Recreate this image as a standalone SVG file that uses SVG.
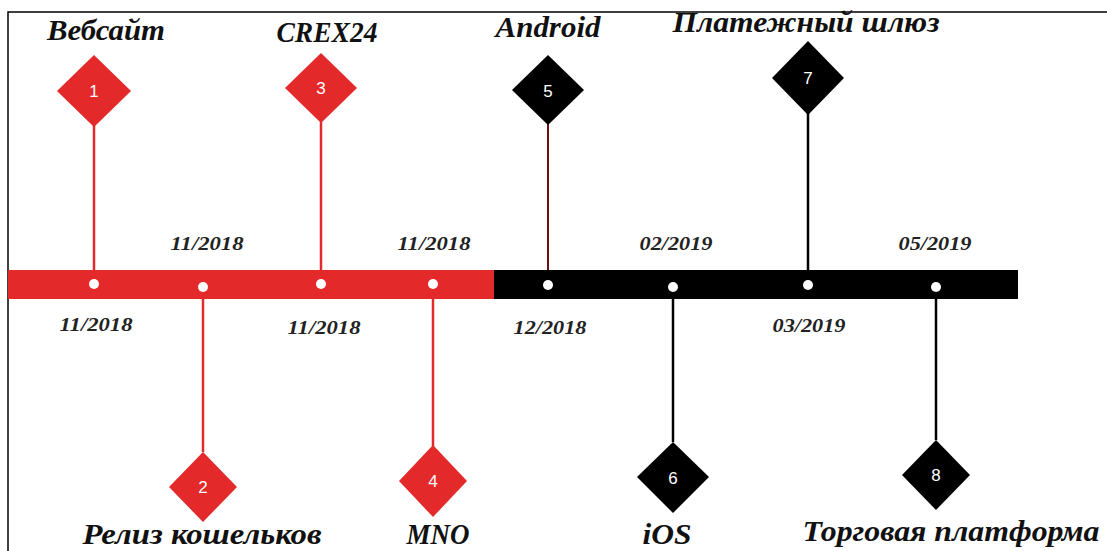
<svg xmlns="http://www.w3.org/2000/svg" width="1107" height="551" viewBox="0 0 1107 551">
<style>
.red{fill:#e3292a}
.blk{fill:#000}
.lr{stroke:#e3292a;stroke-width:2.5}
.lb{stroke:#000;stroke-width:2.5}
.ld{stroke:#6b1010;stroke-width:2}
.num{font-family:"Liberation Sans",Arial,sans-serif;font-size:17px;fill:#fff;text-anchor:middle}
.lbl{font-family:"Liberation Serif","DejaVu Serif",serif;font-weight:bold;font-style:italic;font-size:30px;fill:#111;text-anchor:middle}
.date{font-family:"Liberation Serif","DejaVu Serif",serif;font-weight:bold;font-style:italic;font-size:19px;fill:#222;text-anchor:middle}
.dot{fill:#fff}
</style>
<rect width="1107" height="551" fill="#fff"/>
<path d="M8 551 V12 H1107" fill="none" stroke="#000" stroke-width="1.5"/>
<g id="connectors">
<line class="lr" x1="94" y1="125" x2="94" y2="272"/>
<line class="lr" x1="203" y1="296" x2="203" y2="452"/>
<line class="lr" x1="321" y1="122" x2="321" y2="272"/>
<line class="lr" x1="433" y1="296" x2="433" y2="446"/>
<line class="ld" x1="548" y1="124" x2="548" y2="272"/>
<line class="lb" x1="673" y1="296" x2="673" y2="442"/>
<line class="lb" x1="808" y1="113" x2="808" y2="272"/>
<line class="lb" x1="936" y1="296" x2="936" y2="440"/>
</g>
<g id="timeline">
<rect x="8" y="270" width="487" height="29" class="red"/>
<rect x="494" y="270" width="524" height="29" class="blk"/>
<circle class="dot" cx="94" cy="284" r="5"/>
<circle class="dot" cx="203" cy="287" r="5"/>
<circle class="dot" cx="321" cy="284" r="5"/>
<circle class="dot" cx="433" cy="284" r="5"/>
<circle class="dot" cx="548" cy="285" r="5"/>
<circle class="dot" cx="673" cy="287" r="5"/>
<circle class="dot" cx="808" cy="285" r="5"/>
<circle class="dot" cx="936" cy="287" r="5"/>
</g>
<g id="n1"><polygon class="red" points="94,55 131,91 94,127 57,91"/><text class="num" x="94" y="97">1</text><text class="lbl" x="106" y="40" textLength="118" lengthAdjust="spacingAndGlyphs">Вебсайт</text><text class="date" x="96" y="331" textLength="73" lengthAdjust="spacingAndGlyphs">11/2018</text></g>
<g id="n2"><polygon class="red" points="203,452 237,487 203,522 169,487"/><text class="num" x="203" y="493">2</text><text class="lbl" x="202" y="544" textLength="239" lengthAdjust="spacingAndGlyphs">Релиз кошельков</text><text class="date" x="207" y="250" textLength="73" lengthAdjust="spacingAndGlyphs">11/2018</text></g>
<g id="n3"><polygon class="red" points="321,53 357,88 321,123 285,88"/><text class="num" x="321" y="94">3</text><text class="lbl" x="327" y="42" textLength="101" lengthAdjust="spacingAndGlyphs">CREX24</text><text class="date" x="324" y="334" textLength="73" lengthAdjust="spacingAndGlyphs">11/2018</text></g>
<g id="n4"><polygon class="red" points="433,445 467,481 433,517 399,481"/><text class="num" x="433" y="487">4</text><text class="lbl" x="438" y="544" textLength="63" lengthAdjust="spacingAndGlyphs">MNO</text><text class="date" x="434" y="250" textLength="73" lengthAdjust="spacingAndGlyphs">11/2018</text></g>
<g id="n5"><polygon class="blk" points="548,55 584,90 548,125 512,90"/><text class="num" x="548" y="97">5</text><text class="lbl" x="548" y="37" textLength="105" lengthAdjust="spacingAndGlyphs">Android</text><text class="date" x="550" y="334" textLength="73" lengthAdjust="spacingAndGlyphs">12/2018</text></g>
<g id="n6"><polygon class="blk" points="673,442 709,477 673,513 637,477"/><text class="num" x="673" y="484">6</text><text class="lbl" x="667" y="544" textLength="49" lengthAdjust="spacingAndGlyphs">iOS</text><text class="date" x="676" y="250" textLength="73" lengthAdjust="spacingAndGlyphs">02/2019</text></g>
<g id="n7"><polygon class="blk" points="808,41 844,78 808,115 772,78"/><text class="num" x="808" y="84">7</text><text class="lbl" x="806" y="32" textLength="267" lengthAdjust="spacingAndGlyphs">Платежный шлюз</text><text class="date" x="809" y="332" textLength="73" lengthAdjust="spacingAndGlyphs">03/2019</text></g>
<g id="n8"><polygon class="blk" points="936,440 970,475 936,510 902,475"/><text class="num" x="936" y="481">8</text><text class="lbl" x="951" y="541" textLength="297" lengthAdjust="spacingAndGlyphs">Торговая платформа</text><text class="date" x="935" y="250" textLength="73" lengthAdjust="spacingAndGlyphs">05/2019</text></g>
</svg>
